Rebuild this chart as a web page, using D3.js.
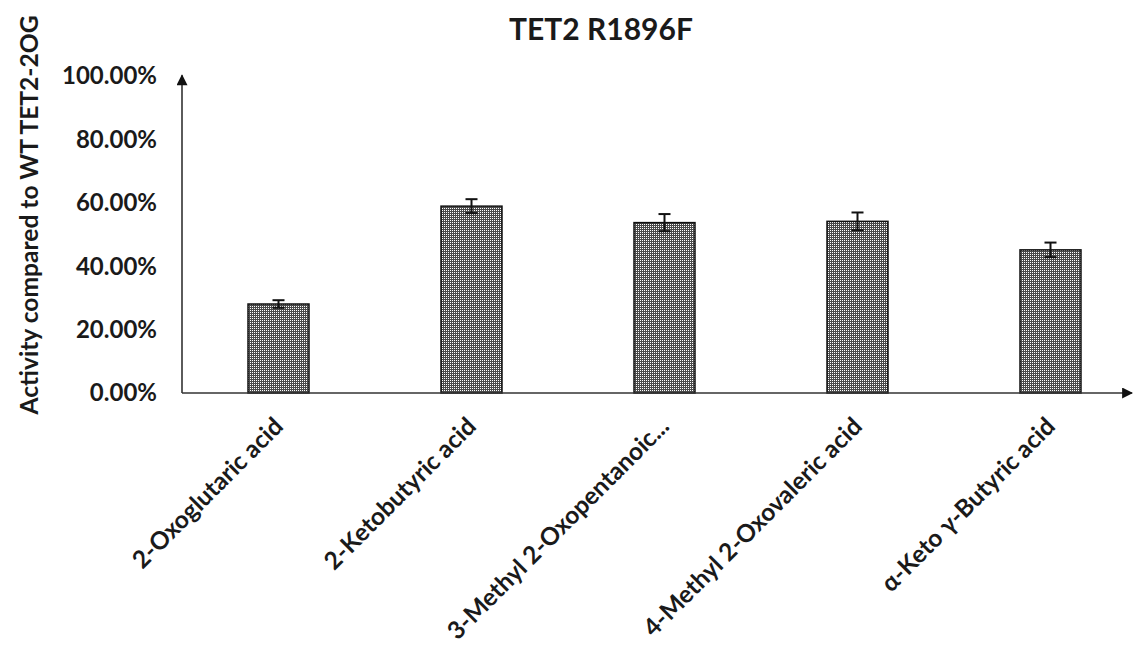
<!DOCTYPE html>
<html>
<head>
<meta charset="utf-8">
<script src="https://cdn.jsdelivr.net/npm/d3@7"></script>
<style>
  html, body { margin: 0; padding: 0; background: #fff; }
  svg { display: block; }
  text { font-family: Lato, "Open Sans", sans-serif; font-weight: 700; fill: #1a1a1a; }
</style>
</head>
<body>
<svg id="chart" width="1133" height="646"></svg>
<script>
// Substrates tested with the TET2 R1896F mutant
const categories = [
  "2-Oxoglutaric acid",
  "2-Ketobutyric acid",
  "3-Methyl 2-Oxopentanoic...",
  "4-Methyl 2-Oxovaleric acid",
  "α-Keto γ-Butyric acid"
];
// Activity relative to wild-type TET2 with 2OG (fraction)
const activity = [0.281, 0.590, 0.538, 0.542, 0.452];
// Error bar half-widths (fraction)
const errors = [0.012, 0.022, 0.027, 0.028, 0.023];
const yTicks = [0, 0.2, 0.4, 0.6, 0.8, 1.0];

const svg = d3.select("#chart");
const plotLeft = 182, plotRight = 1147, plotBottom = 393, plotTop = 76.3;

const x = d3.scaleBand()
  .domain(categories)
  .range([plotLeft, plotRight])
  .paddingInner(0.684)
  .paddingOuter(0.342);

const y = d3.scaleLinear().domain([0, 1]).range([plotBottom, plotTop]);

// dotted fill used by the bars
const defs = svg.append("defs");
const pat = defs.append("pattern")
  .attr("id", "dots")
  .attr("patternUnits", "userSpaceOnUse")
  .attr("width", 2).attr("height", 2);
pat.append("rect").attr("width", 2).attr("height", 2).attr("fill", "#4a4a4a");
pat.append("rect").attr("x", 0).attr("y", 0).attr("width", 1).attr("height", 1).attr("fill", "#ffffff");

const arrow = defs.append("marker")
  .attr("id", "arrow")
  .attr("viewBox", "0 0 10 10")
  .attr("refX", 9).attr("refY", 5)
  .attr("markerUnits", "userSpaceOnUse")
  .attr("markerWidth", 14).attr("markerHeight", 11)
  .attr("orient", "auto");
arrow.append("path").attr("d", "M0,0 L10,5 L0,10 Z").attr("fill", "#111");

// title
svg.append("text")
  .attr("x", 601).attr("y", 40)
  .attr("text-anchor", "middle")
  .attr("font-size", 30)
  .text("TET2 R1896F");

// y axis title
svg.append("text")
  .attr("transform", "translate(38,215) rotate(-90)")
  .attr("text-anchor", "middle")
  .attr("font-size", 24.6)
  .text("Activity compared to WT TET2-2OG");

// y axis labels
const yAxis = d3.axisLeft(y)
  .tickValues(yTicks)
  .tickFormat(d3.format(".2%"))
  .tickSize(0)
  .tickPadding(25);
const gy = svg.append("g").attr("transform", `translate(${plotLeft},0)`).call(yAxis);
gy.select(".domain").remove();
gy.selectAll("text")
  .attr("font-size", 24)
  .attr("font-family", "Lato, sans-serif")
  .attr("font-weight", 700)
  .attr("fill", "#1a1a1a");

// bars
svg.append("g").selectAll("rect")
  .data(categories)
  .join("rect")
  .attr("x", d => x(d))
  .attr("width", x.bandwidth())
  .attr("y", (d, i) => y(activity[i]))
  .attr("height", (d, i) => y(0) - y(activity[i]))
  .attr("fill", "url(#dots)")
  .attr("stroke", "#111")
  .attr("stroke-width", 1.5);

// error bars
const eb = svg.append("g").attr("stroke", "#111").attr("stroke-width", 2);
categories.forEach((c, i) => {
  const cx = x(c) + x.bandwidth() / 2;
  const hi = y(activity[i] + errors[i]);
  const lo = y(activity[i] - errors[i]);
  eb.append("line").attr("x1", cx).attr("x2", cx).attr("y1", hi).attr("y2", lo);
  eb.append("line").attr("x1", cx - 6).attr("x2", cx + 6).attr("y1", hi).attr("y2", hi);
  eb.append("line").attr("x1", cx - 6).attr("x2", cx + 6).attr("y1", lo).attr("y2", lo);
});

// axis lines with arrowheads
svg.append("line")
  .attr("x1", plotLeft).attr("x2", 1132)
  .attr("y1", plotBottom).attr("y2", plotBottom)
  .attr("stroke", "#333").attr("stroke-width", 1.6)
  .attr("marker-end", "url(#arrow)");
svg.append("line")
  .attr("x1", plotLeft).attr("x2", plotLeft)
  .attr("y1", plotBottom).attr("y2", y(1) - 1)
  .attr("stroke", "#333").attr("stroke-width", 1.6)
  .attr("marker-end", "url(#arrow)");

// category labels
const xAxis = d3.axisBottom(x).tickSize(0).tickPadding(0);
const gx = svg.append("g").attr("transform", `translate(0,${plotBottom})`).call(xAxis);
gx.select(".domain").remove();
gx.selectAll("text")
  .attr("font-size", 24.5)
  .attr("font-family", "Lato, sans-serif")
  .attr("font-weight", 700)
  .attr("fill", "#1a1a1a")
  .attr("text-anchor", "end")
  .attr("y", 0).attr("dy", 0)
  .attr("transform", "translate(6,35) rotate(-45)");
</script>
</body>
</html>
